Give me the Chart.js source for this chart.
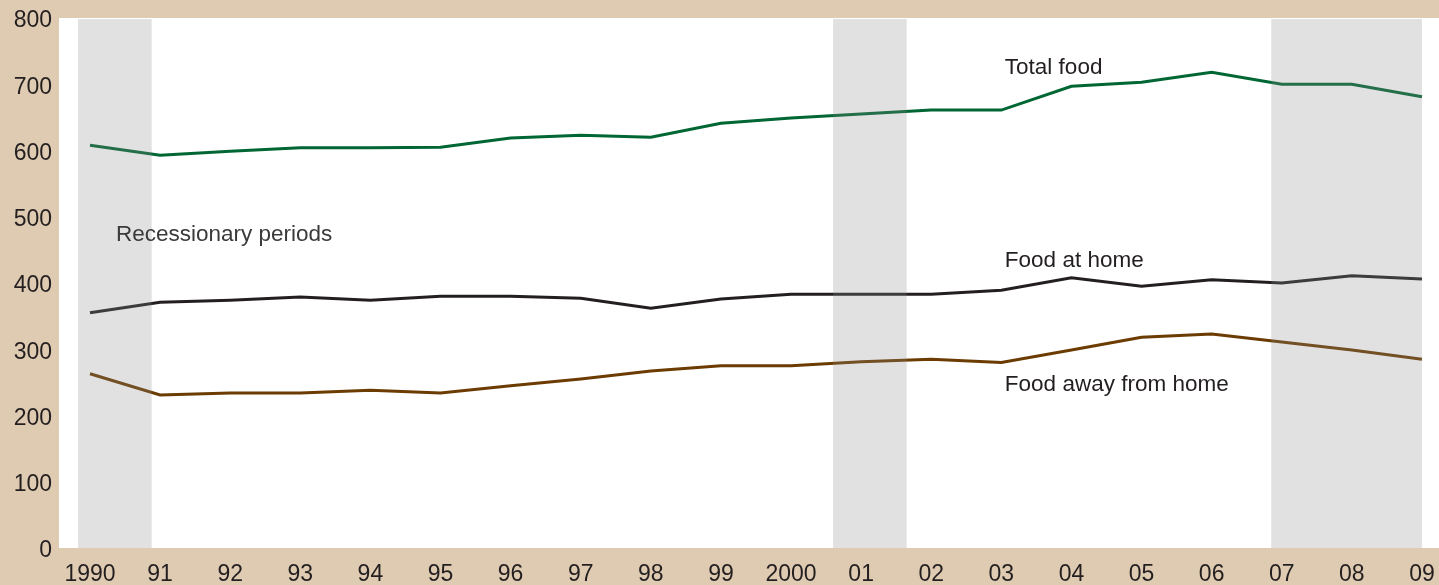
<!DOCTYPE html>
<html lang="en">
<head>
    <meta charset="UTF-8">
    <title>Food spending</title>
    <script src="https://cdn.jsdelivr.net/npm/chart.js"></script>
    <style>
        html, body { margin: 0; padding: 0; background: #dfcbb1; overflow: hidden; }
        #wrap { width: 1439px; height: 585px; }
    </style>
</head>
<body>
<div id="wrap"><canvas id="foodChart"></canvas></div>
<script>
const years = [1990, 1991, 1992, 1993, 1994, 1995, 1996, 1997, 1998, 1999,
               2000, 2001, 2002, 2003, 2004, 2005, 2006, 2007, 2008, 2009];
const totalFood = [608, 593, 599, 604, 604, 605, 619, 623, 620, 641,
                   649, 655, 661, 661, 697, 703, 718, 700, 700, 681];
const foodAtHome = [355, 371, 374, 379, 374, 380, 380, 377, 362, 376,
                    383, 383, 383, 389, 408, 395, 405, 400, 411, 406];
const foodAway = [263, 231, 234, 234, 238, 234, 245, 255, 267, 275,
                  275, 281, 285, 280, 299, 318, 323, 311, 299, 285];
// recession bands, in fractional years
const recessions = [[1989.83, 1990.88], [2000.6, 2001.65], [2006.85, 2009.0]];
const yTicks = [0, 100, 200, 300, 400, 500, 600, 700, 800];

const toPoints = vals => vals.map((v, i) => ({ x: years[i], y: v }));

const FONT = '"Liberation Sans", Arial, sans-serif';

const backdrop = {
    id: 'backdrop',
    beforeDraw(chart) {
        const { ctx, chartArea: a } = chart;
        ctx.save();
        ctx.fillStyle = '#ffffff';
        ctx.fillRect(a.left, a.top, a.right - a.left, a.bottom - a.top);
        ctx.restore();
    },
    afterDatasetsDraw(chart) {
        const { ctx, chartArea: a, scales: { x, y } } = chart;
        ctx.save();
        ctx.fillStyle = 'rgba(140,140,140,0.26)';
        recessions.forEach(([s, e]) => {
            const x0 = x.getPixelForValue(s);
            const x1 = x.getPixelForValue(e);
            ctx.fillRect(x0, a.top + 1, x1 - x0, a.bottom - a.top - 1);
        });
        // series labels
        ctx.font = '22.5px ' + FONT;
        ctx.textBaseline = 'middle';
        ctx.textAlign = 'left';
        ctx.fillStyle = '#231f20';
        ctx.fillText('Total food', x.getPixelForValue(2003.05), y.getPixelForValue(725));
        ctx.fillText('Food at home', x.getPixelForValue(2003.05), y.getPixelForValue(434));
        ctx.fillText('Food away from home', x.getPixelForValue(2003.05), y.getPixelForValue(247));
        ctx.fillStyle = '#3a3a3a';
        ctx.fillText('Recessionary periods', x.getPixelForValue(1990.37), y.getPixelForValue(473));
        ctx.restore();
    }
};

const ctx = document.getElementById('foodChart').getContext('2d');
new Chart(ctx, {
    type: 'line',
    data: {
        datasets: [
            { label: 'Total food', data: toPoints(totalFood), borderColor: '#006633' },
            { label: 'Food at home', data: toPoints(foodAtHome), borderColor: '#231f20' },
            { label: 'Food away from home', data: toPoints(foodAway), borderColor: '#6b3b00' }
        ]
    },
    options: {
        responsive: true,
        maintainAspectRatio: false,
        animation: false,
        layout: { padding: { top: 18, right: 0, left: 0, bottom: 0 } },
        elements: {
            line: { borderWidth: 3, tension: 0 },
            point: { radius: 0 }
        },
        plugins: {
            legend: { display: false },
            tooltip: { enabled: false }
        },
        scales: {
            x: {
                type: 'linear',
                min: 1989.558,
                max: 2009.243,
                grid: { display: false, drawTicks: false },
                border: { display: false },
                afterBuildTicks: axis => { axis.ticks = years.map(v => ({ value: v })); },
                afterFit: axis => {
                    axis.height = 37;
                    axis.paddingLeft = 0;
                    axis.paddingRight = 0;
                },
                ticks: {
                    padding: 13,
                    autoSkip: false,
                    maxRotation: 0,
                    color: '#231f20',
                    font: { family: FONT, size: 23 },
                    callback: v => (v === 1990 || v === 2000) ? String(v) : String(v).slice(2)
                }
            },
            y: {
                min: 0,
                max: 800,
                grid: { display: false, drawTicks: false },
                border: { display: false },
                afterBuildTicks: axis => { axis.ticks = yTicks.map(v => ({ value: v })); },
                afterFit: axis => {
                    axis.width = 59;
                    axis.paddingTop = 0;
                    axis.paddingBottom = 0;
                },
                ticks: {
                    padding: 7,
                    labelOffset: 3,
                    color: '#231f20',
                    font: { family: FONT, size: 23 }
                }
            }
        }
    },
    plugins: [backdrop]
});
</script>
</body>
</html>
